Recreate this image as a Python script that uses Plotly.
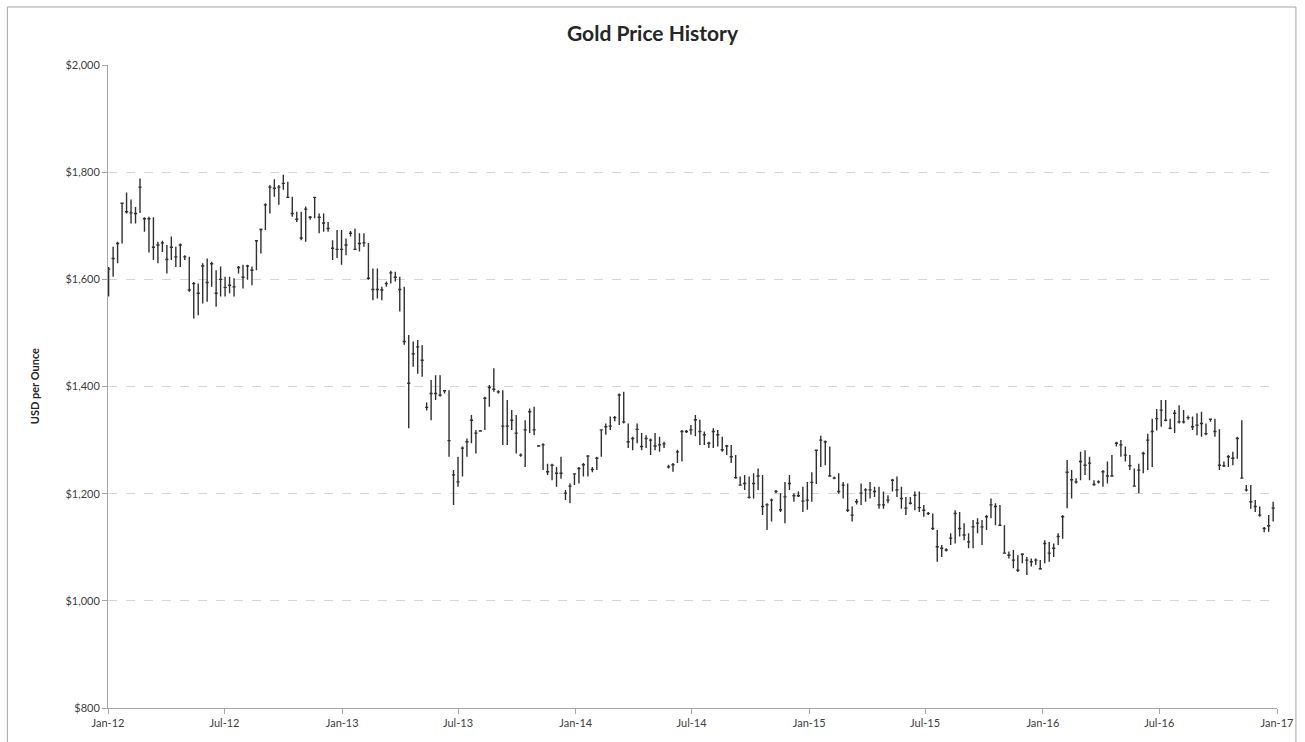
import pandas as pd
import plotly.graph_objects as go

# Weekly bars, weeks starting Monday 2012-01-02
week_start = "2012-01-02"

high = [1623, 1661, 1670, 1743, 1762, 1749, 1735, 1788, 1716, 1717,
        1716, 1670, 1672, 1664, 1680, 1661, 1667, 1645, 1642, 1595,
        1592, 1630, 1639, 1633, 1617, 1624, 1605, 1605, 1602, 1625,
        1627, 1627, 1624, 1673, 1695, 1742, 1776, 1787, 1776, 1795,
        1782, 1754, 1726, 1726, 1736, 1718, 1754, 1723, 1723, 1707,
        1673, 1692, 1692, 1676, 1690, 1695, 1686, 1686, 1668, 1620,
        1620, 1586, 1596, 1616, 1614, 1605, 1586, 1496, 1484, 1487,
        1477, 1370, 1412, 1421, 1421, 1393, 1393, 1244, 1269, 1288,
        1303, 1347, 1319, 1319, 1381, 1403, 1434, 1393, 1393, 1375,
        1356, 1347, 1275, 1337, 1359, 1362, 1291, 1294, 1256, 1256,
        1250, 1269, 1207, 1219, 1238, 1250, 1257, 1272, 1250, 1269,
        1319, 1331, 1344, 1345, 1387, 1390, 1331, 1306, 1331, 1313,
        1309, 1303, 1313, 1306, 1297, 1254, 1257, 1282, 1319, 1319,
        1328, 1347, 1338, 1316, 1297, 1322, 1319, 1306, 1291, 1291,
        1272, 1232, 1235, 1232, 1238, 1247, 1235, 1182, 1191, 1207,
        1201, 1222, 1235, 1201, 1204, 1213, 1222, 1240, 1282, 1308,
        1299, 1288, 1232, 1238, 1222, 1219, 1176, 1190, 1219, 1210,
        1222, 1213, 1213, 1204, 1197, 1228, 1232, 1213, 1194, 1194,
        1204, 1204, 1179, 1166, 1163, 1132, 1104, 1098, 1126, 1169,
        1166, 1145, 1126, 1151, 1154, 1151, 1160, 1191, 1182, 1179,
        1141, 1092, 1095, 1085, 1089, 1082, 1079, 1079, 1076, 1113,
        1110, 1107, 1126, 1160, 1263, 1244, 1229, 1278, 1281, 1269,
        1225, 1225, 1244, 1260, 1272, 1297, 1300, 1288, 1272, 1247,
        1256, 1278, 1312, 1340, 1358, 1375, 1375, 1340, 1356, 1365,
        1356, 1346, 1344, 1350, 1353, 1331, 1340, 1340, 1320, 1260,
        1272, 1278, 1306, 1337, 1216, 1216, 1188, 1176, 1138, 1160,
        1185]

low = [1568, 1605, 1630, 1667, 1723, 1704, 1704, 1724, 1689, 1650,
       1636, 1630, 1651, 1611, 1636, 1623, 1623, 1636, 1577, 1527,
       1533, 1555, 1558, 1586, 1549, 1568, 1568, 1574, 1568, 1611,
       1583, 1599, 1589, 1617, 1648, 1692, 1723, 1754, 1739, 1767,
       1753, 1717, 1707, 1673, 1670, 1711, 1714, 1686, 1689, 1689,
       1636, 1640, 1627, 1645, 1680, 1656, 1652, 1661, 1599, 1561,
       1564, 1561, 1586, 1592, 1596, 1540, 1478, 1322, 1437, 1424,
       1418, 1355, 1337, 1375, 1381, 1387, 1269, 1179, 1213, 1232,
       1269, 1294, 1275, 1316, 1319, 1362, 1390, 1387, 1291, 1291,
       1319, 1275, 1269, 1250, 1313, 1309, 1288, 1244, 1235, 1225,
       1213, 1228, 1188, 1182, 1216, 1219, 1232, 1232, 1240, 1244,
       1269, 1310, 1319, 1335, 1328, 1331, 1285, 1281, 1294, 1281,
       1285, 1272, 1281, 1278, 1285, 1247, 1241, 1257, 1260, 1313,
       1310, 1307, 1291, 1291, 1285, 1285, 1288, 1278, 1272, 1257,
       1228, 1216, 1207, 1191, 1191, 1207, 1160, 1132, 1148, 1201,
       1166, 1145, 1207, 1185, 1194, 1166, 1170, 1185, 1218, 1250,
       1253, 1232, 1227, 1200, 1191, 1166, 1148, 1180, 1179, 1185,
       1191, 1194, 1172, 1172, 1182, 1204, 1194, 1172, 1160, 1180,
       1169, 1166, 1157, 1160, 1132, 1073, 1082, 1092, 1104, 1107,
       1120, 1113, 1098, 1098, 1126, 1104, 1132, 1154, 1141, 1141,
       1088, 1079, 1061, 1054, 1070, 1048, 1064, 1067, 1058, 1070,
       1073, 1082, 1104, 1116, 1173, 1191, 1219, 1225, 1235, 1225,
       1215, 1219, 1213, 1219, 1232, 1288, 1269, 1260, 1244, 1213,
       1201, 1238, 1244, 1250, 1318, 1325, 1335, 1320, 1313, 1331,
       1331, 1338, 1319, 1309, 1306, 1309, 1334, 1306, 1244, 1250,
       1250, 1253, 1265, 1228, 1204, 1172, 1166, 1157, 1128, 1129,
       1148]

close = [1619, 1639, 1667, 1742, 1726, 1724, 1723, 1772, 1713, 1713,
         1660, 1664, 1668, 1637, 1660, 1642, 1664, 1642, 1580, 1592,
         1574, 1625, 1594, 1629, 1574, 1600, 1585, 1589, 1586, 1622,
         1604, 1625, 1617, 1672, 1693, 1739, 1772, 1770, 1772, 1779,
         1753, 1723, 1712, 1677, 1731, 1716, 1753, 1716, 1705, 1695,
         1658, 1656, 1656, 1664, 1686, 1656, 1667, 1668, 1602, 1581,
         1581, 1580, 1592, 1612, 1604, 1581, 1484, 1406, 1461, 1474,
         1449, 1361, 1387, 1387, 1384, 1392, 1299, 1235, 1222, 1285,
         1297, 1337, 1313, 1317, 1378, 1398, 1395, 1390, 1326, 1326,
         1337, 1313, 1272, 1319, 1353, 1319, 1289, 1291, 1241, 1253,
         1238, 1238, 1201, 1214, 1237, 1247, 1254, 1270, 1245, 1266,
         1319, 1325, 1326, 1342, 1384, 1334, 1297, 1303, 1320, 1288,
         1303, 1300, 1289, 1291, 1293, 1250, 1254, 1278, 1316, 1316,
         1319, 1338, 1316, 1310, 1294, 1316, 1310, 1282, 1289, 1269,
         1230, 1216, 1219, 1193, 1219, 1233, 1176, 1179, 1188, 1204,
         1170, 1194, 1219, 1196, 1196, 1186, 1188, 1221, 1281, 1300,
         1297, 1233, 1229, 1204, 1216, 1169, 1160, 1185, 1201, 1207,
         1207, 1204, 1179, 1179, 1188, 1225, 1207, 1191, 1173, 1182,
         1197, 1174, 1169, 1163, 1135, 1101, 1098, 1095, 1117, 1163,
         1135, 1123, 1110, 1138, 1145, 1138, 1157, 1179, 1176, 1141,
         1089, 1085, 1076, 1057, 1087, 1076, 1073, 1076, 1060, 1107,
         1089, 1098, 1120, 1157, 1240, 1226, 1222, 1260, 1253, 1257,
         1217, 1222, 1241, 1233, 1233, 1294, 1291, 1272, 1252, 1214,
         1244, 1275, 1300, 1316, 1340, 1356, 1337, 1322, 1350, 1334,
         1334, 1342, 1325, 1328, 1331, 1312, 1339, 1316, 1253, 1252,
         1269, 1266, 1303, 1229, 1207, 1185, 1176, 1160, 1135, 1140,
         1173]

y_ticks = [800, 1000, 1200, 1400, 1600, 1800, 2000]
chart_title = "Gold Price History"
y_title = "USD per Ounce"

dates = pd.date_range(week_start, periods=len(close), freq="7D")

BAR = "#303030"
fig = go.Figure(go.Ohlc(
    x=dates, open=close, high=high, low=low, close=close,
    increasing=dict(line=dict(color=BAR, width=1.4)),
    decreasing=dict(line=dict(color=BAR, width=1.4)),
    tickwidth=0.35, showlegend=False,
))

W, H = 1305, 742
L, R, T, B = 108, 1281, 65, 708
fig.update_layout(
    width=W, height=H,
    margin=dict(l=L, r=W - R, t=T, b=H - B, pad=0),
    paper_bgcolor="white", plot_bgcolor="white",
    font=dict(family="Lato, 'Liberation Sans', sans-serif", size=11, color="#595959"),
    title=dict(text="<b>" + chart_title + "</b>", x=0.5, xanchor="center",
               y=1 - 34 / H, yanchor="middle",
               font=dict(size=21, color="#262626", family="Lato, sans-serif")),
    xaxis=dict(
        type="date", range=["2012-01-01", "2017-01-01"],
        tickformat="%b-%y", dtick="M6", tick0="2012-01-01",
        showgrid=False, showline=True, linecolor="#a6a6a6", linewidth=1,
        ticks="outside", ticklen=5, tickcolor="#a6a6a6",
        rangeslider=dict(visible=False), zeroline=False,
        tickfont=dict(size=11, color="#404040"),
    ),
    yaxis=dict(
        range=[800, 2000], tickvals=y_ticks, tickformat="$,.0f",
        showgrid=True, gridcolor="#d6d6d6", griddash="dash", gridwidth=1,
        showline=True, linecolor="#a6a6a6", linewidth=1,
        ticks="outside", ticklen=5, tickcolor="#a6a6a6",
        zeroline=False, tickfont=dict(size=11, color="#404040"),
    ),
    annotations=[dict(
        text="<b>" + y_title + "</b>", textangle=-90, xref="paper", yref="paper",
        x=(35 - L) / (R - L), y=(B - 386) / (B - T),
        xanchor="center", yanchor="middle", showarrow=False,
        font=dict(size=11, color="#262626", family="Lato, sans-serif"),
    )],
    shapes=[dict(
        type="rect", xref="paper", yref="paper", layer="below",
        x0=(7 - L) / (R - L), x1=(1300 - L) / (R - L),
        y0=(B - 746) / (B - T), y1=(B - 7) / (B - T),
        line=dict(color="#a6a6a6", width=1), fillcolor="rgba(0,0,0,0)",
    )],
)

fig.write_html("out.html", config={"displayModeBar": False},
               post_script="document.body.style.margin='0';document.body.style.overflow='hidden';")
